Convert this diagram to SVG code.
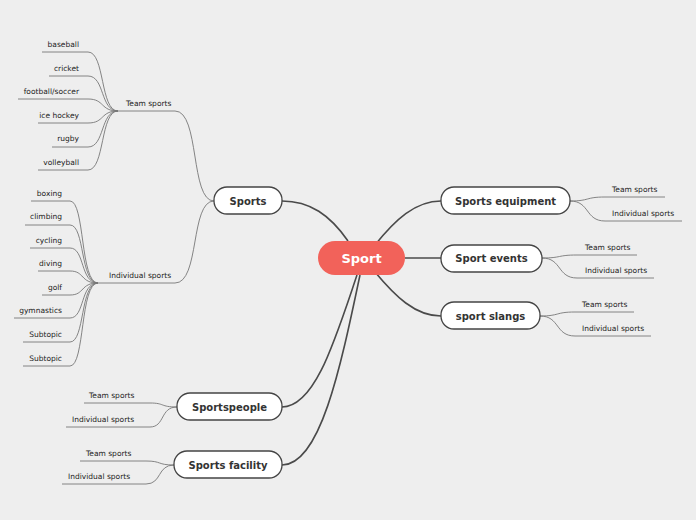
<svg xmlns="http://www.w3.org/2000/svg" width="696" height="520" viewBox="0 0 696 520">
<style>
.t{font-family:"DejaVu Sans",sans-serif;font-size:7.5px;fill:#222}
.n{font-family:"DejaVu Sans",sans-serif;font-size:10px;font-weight:bold;fill:#333;text-anchor:middle}
.box{fill:#fff;stroke:#444;stroke-width:1.3}
.m{fill:none;stroke:#4a4a4a;stroke-width:1.6}
.s{fill:none;stroke:#777;stroke-width:0.9}
</style>
<rect width="696" height="520" fill="#eeeeee"/>
<g id="connectors">
<path class="m" d="M348,241 C330,215 310,201 282,201"/>
<path class="m" d="M375,245 C395,220 415,201 441,201"/>
<path class="m" d="M405,258 L441,258"/>
<path class="m" d="M375,272 C395,296 415,316 441,316"/>
<path class="m" d="M357,275 C335,340 315,407 282,407"/>
<path class="m" d="M360,275 C340,370 320,465 282,465"/>
<path class="s" d="M214,201 C190,201 200,111 175,111 L118,111"/>
<path class="s" d="M214,201 C190,201 200,283 175,283 L98,283"/>
<g id="team-leaves">
<path class="s" d="M42,52 L88,52 C105,52 100,111 118,111"/>
<path class="s" d="M49,76 L88,76 C105,76 100,111 118,111"/>
<path class="s" d="M18,99 L88,99 C105,99 100,111 118,111"/>
<path class="s" d="M38,123 L88,123 C105,123 100,111 118,111"/>
<path class="s" d="M52,147 L88,147 C105,147 100,111 118,111"/>
<path class="s" d="M38,170 L88,170 C105,170 100,111 118,111"/>
</g>
<g id="ind-leaves">
<path class="s" d="M31,201 L70,201 C85,201 80,283 98,283"/>
<path class="s" d="M25,225 L70,225 C85,225 80,283 98,283"/>
<path class="s" d="M30,248 L70,248 C85,248 80,283 98,283"/>
<path class="s" d="M38,271 L70,271 C85,271 80,283 98,283"/>
<path class="s" d="M42,295 L70,295 C85,295 80,283 98,283"/>
<path class="s" d="M14,318 L70,318 C85,318 80,283 98,283"/>
<path class="s" d="M23,342 L70,342 C85,342 80,283 98,283"/>
<path class="s" d="M23,366 L70,366 C85,366 80,283 98,283"/>
</g>
<path class="s" d="M570,201 C590,201 585,197 605,197 L665,197"/>
<path class="s" d="M570,201 C590,201 585,221 605,221 L682,221"/>
<path class="s" d="M542,258 C562,258 557,255 577,255 L637,255"/>
<path class="s" d="M542,258 C562,258 557,278 577,278 L654,278"/>
<path class="s" d="M540,316 C560,316 555,312 575,312 L634,312"/>
<path class="s" d="M540,316 C560,316 555,336 575,336 L651,336"/>
<path class="s" d="M177,407 C160,407 165,403 150,403 L84,403"/>
<path class="s" d="M177,407 C160,407 165,427 150,427 L66,427"/>
<path class="s" d="M174,465 C157,465 162,461 146,461 L80,461"/>
<path class="s" d="M174,465 C157,465 162,484 146,484 L62,484"/>
</g>
<g id="sport"><rect x="318" y="241" width="87" height="34" rx="17" fill="#f2625a"/><text x="361.5" y="263" class="n" style="fill:#fff;font-size:13px">Sport</text></g>
<g id="sports"><rect class="box" x="214" y="187" width="68" height="27" rx="13"/><text class="n" x="248" y="205">Sports</text></g>
<g id="equipment"><rect class="box" x="441" y="187" width="129" height="27" rx="13"/><text class="n" x="505.5" y="205">Sports equipment</text></g>
<g id="events"><rect class="box" x="441" y="245" width="101" height="27" rx="13"/><text class="n" x="491.5" y="262">Sport events</text></g>
<g id="slangs"><rect class="box" x="441" y="302" width="99" height="27" rx="13"/><text class="n" x="490.5" y="320">sport slangs</text></g>
<g id="sportspeople"><rect class="box" x="177" y="393" width="105" height="27" rx="13"/><text class="n" x="229.5" y="411">Sportspeople</text></g>
<g id="facility"><rect class="box" x="174" y="451" width="108" height="27" rx="13"/><text class="n" x="228" y="469">Sports facility</text></g>
<g id="labels">
<text class="t" x="126" y="106">Team sports</text>
<text class="t" x="109" y="278">Individual sports</text>
<g text-anchor="end">
<text class="t" x="79" y="47">baseball</text>
<text class="t" x="79" y="71">cricket</text>
<text class="t" x="79" y="94">football/soccer</text>
<text class="t" x="79" y="118">ice hockey</text>
<text class="t" x="79" y="141">rugby</text>
<text class="t" x="79" y="165">volleyball</text>
<text class="t" x="62" y="196">boxing</text>
<text class="t" x="62" y="219">climbing</text>
<text class="t" x="62" y="243">cycling</text>
<text class="t" x="62" y="266">diving</text>
<text class="t" x="62" y="290">golf</text>
<text class="t" x="62" y="313">gymnastics</text>
<text class="t" x="62" y="337">Subtopic</text>
<text class="t" x="62" y="361">Subtopic</text>
</g>
<text class="t" x="612" y="192">Team sports</text>
<text class="t" x="612" y="216">Individual sports</text>
<text class="t" x="585" y="250">Team sports</text>
<text class="t" x="585" y="273">Individual sports</text>
<text class="t" x="582" y="307">Team sports</text>
<text class="t" x="582" y="331">Individual sports</text>
<text class="t" x="89" y="398">Team sports</text>
<text class="t" x="72" y="422">Individual sports</text>
<text class="t" x="86" y="456">Team sports</text>
<text class="t" x="68" y="479">Individual sports</text>
</g>
</svg>
